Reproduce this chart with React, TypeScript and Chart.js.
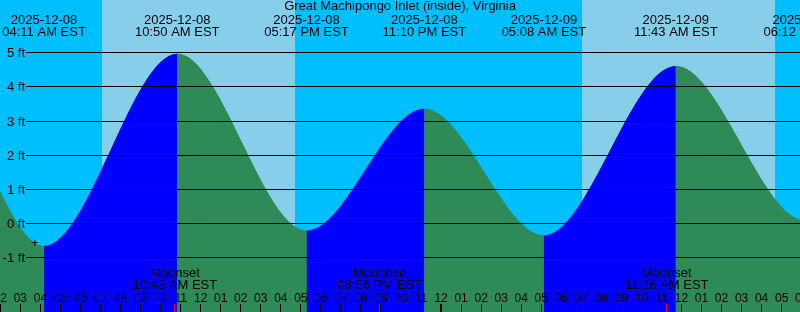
import { useEffect, useRef } from 'react';
import { Chart, registerables } from 'chart.js';

Chart.register(...registerables);

const TITLE = 'Great Machipongo Inlet (inside), Virginia';
const ZONE = 'EST';

// Visible time window
const WINDOW_START = '2025-12-08 01:59';
const WINDOW_END = '2025-12-09 17:55';
// Visible height window (ft)
const HEIGHT_MIN = -2.59;
const HEIGHT_MAX = 6.545;

// Tide extremes (the first two and the last one lie outside the window)
const tideStamps = [
  '2025-12-07 16:30',
  '2025-12-07 22:54',
  '2025-12-08 04:11',
  '2025-12-08 10:50',
  '2025-12-08 17:17',
  '2025-12-08 23:10',
  '2025-12-09 05:08',
  '2025-12-09 11:43',
  '2025-12-09 18:12',
  '2025-12-10 00:25',
];
const tideHeights = [-0.1, 3.6, -0.66, 4.97, -0.21, 3.36, -0.35, 4.61, 0.08, 3.3];

// Daylight
const sunriseStamps = ['2025-12-08 07:04', '2025-12-09 07:01'];
const sunsetStamps = ['2025-12-08 16:43', '2025-12-09 16:40'];

// Moon events
const moonEvents = ['Moonset', 'Moonrise', 'Moonset'];
const moonStamps = ['2025-12-08 10:43', '2025-12-08 20:56', '2025-12-09 11:16'];

// Height grid (ft)
const heightTicks = [5, 4, 3, 2, 1, 0, -1];

// "+" mark
const markStamp = '2025-12-08 03:43';
const markHeight = -0.556;

const NIGHT = '#00BFFF';
const DAY = '#87CEEB';
const RISING = '#0000FF';
const FALLING = '#2E8B57';
const FONT = '"Liberation Sans", Arial, sans-serif';

function toHours(stamp: string): number {
  const [d, t] = stamp.split(' ');
  const [Y, M, D] = d.split('-').map(Number);
  const [h, m] = t.split(':').map(Number);
  return (Date.UTC(Y, M - 1, D, h, m) - Date.UTC(2025, 11, 9)) / 3600000;
}

const pad = (n: number) => String(n).padStart(2, '0');

function clock(stamp: string): string {
  const [h, m] = stamp.split(' ')[1].split(':').map(Number);
  const ap = h < 12 ? 'AM' : 'PM';
  const h12 = h % 12 === 0 ? 12 : h % 12;
  return `${pad(h12)}:${pad(m)} ${ap} ${ZONE}`;
}

function hourLabel(h: number): string {
  const hr = ((h % 24) + 24) % 24;
  return pad(hr % 12 === 0 ? 12 : hr % 12);
}

const skyPlugin = {
  id: 'sky',
  beforeDatasetsDraw(chart: any) {
    const { ctx, chartArea: a, scales } = chart;
    const x = scales.x;
    ctx.save();
    ctx.fillStyle = NIGHT;
    ctx.fillRect(a.left, a.top, a.right - a.left, a.bottom - a.top);
    ctx.fillStyle = DAY;
    sunriseStamps.forEach((s, i) => {
      const x0 = Math.round(x.getPixelForValue(toHours(s)));
      const x1 = Math.round(x.getPixelForValue(toHours(sunsetStamps[i])));
      ctx.fillRect(x0, a.top, x1 - x0, a.bottom - a.top);
    });
    ctx.restore();
  },
};

const overlayPlugin = {
  id: 'overlay',
  afterDatasetsDraw(chart: any) {
    const { ctx, chartArea: a, scales } = chart;
    const x = scales.x;
    const y = scales.y;
    ctx.save();
    ctx.strokeStyle = '#000';
    ctx.fillStyle = '#000';
    ctx.lineWidth = 1;
    ctx.textBaseline = 'alphabetic';
    ctx.font = `13px ${FONT}`;

    // grid lines + height labels
    ctx.textAlign = 'right';
    heightTicks.forEach((v) => {
      const py = Math.floor(y.getPixelForValue(v)) + 0.5;
      ctx.beginPath();
      ctx.moveTo(26, py);
      ctx.lineTo(a.right, py);
      ctx.stroke();
      ctx.fillText(`${v} ft`, 25, py + 4.5);
    });

    ctx.textAlign = 'center';
    // title
    ctx.fillText(TITLE, (a.left + a.right) / 2, 10);

    // tide event labels
    tideStamps.forEach((s) => {
      const px = x.getPixelForValue(toHours(s));
      ctx.fillText(s.split(' ')[0], px, 24);
      ctx.fillText(clock(s), px, 36);
    });

    // moon labels
    moonStamps.forEach((s, i) => {
      const px = x.getPixelForValue(toHours(s));
      ctx.fillText(moonEvents[i], px, 277);
      ctx.fillText(clock(s), px, 289);
    });

    // hour ticks and labels
    ctx.font = `12px ${FONT}`;
    for (let h = Math.ceil(x.min); h <= Math.floor(x.max) + 1; h++) {
      const px = x.getPixelForValue(h);
      ctx.fillText(hourLabel(h), px, 302);
      const midnight = ((h % 24) + 24) % 24 === 0;
      if (midnight) ctx.fillRect(Math.round(px) - 1, 304, 2, 8);
      else ctx.fillRect(Math.floor(px), 304, 1, 8);
    }

    // moon ticks
    ctx.fillStyle = '#FF0000';
    moonStamps.forEach((s) => {
      const px = x.getPixelForValue(toHours(s));
      ctx.fillRect(Math.floor(px), 304, 1, 8);
    });

    // mark
    ctx.fillStyle = '#000';
    ctx.font = `13px ${FONT}`;
    ctx.fillText('+', x.getPixelForValue(toHours(markStamp)), y.getPixelForValue(markHeight) + 4.6);
    ctx.restore();
  },
};

export default function App() {
  const ref = useRef<HTMLCanvasElement>(null);

  useEffect(() => {
    const canvas = ref.current;
    if (!canvas) return;
    const points = tideStamps.map((s, i) => ({ x: toHours(s), y: tideHeights[i] }));
    const common = {
      borderWidth: 0,
      borderColor: 'rgba(0,0,0,0)',
      pointRadius: 0,
      pointHoverRadius: 0,
      fill: 'start',
      cubicInterpolationMode: 'monotone',
      capBezierPoints: false,
    };
    const chart = new Chart(canvas, {
      type: 'line',
      data: {
        datasets: [
          {
            ...common,
            data: points,
            backgroundColor: FALLING,
            segment: {
              backgroundColor: (c: any) => (c.p1.parsed.y > c.p0.parsed.y ? RISING : FALLING),
            },
          } as any,
          // underlay of the same curve, hides anti-alias seams between rising/falling fills
          {
            ...common,
            data: points,
            backgroundColor: FALLING,
          } as any,
        ],
      },
      options: {
        animation: false,
        responsive: false,
        maintainAspectRatio: false,
        devicePixelRatio: 1,
        events: [],
        layout: { padding: 0 },
        plugins: {
          legend: { display: false },
          tooltip: { enabled: false },
          title: { display: false },
        },
        scales: {
          x: {
            type: 'linear',
            display: false,
            bounds: 'data',
            afterDataLimits: (scale: any) => {
              scale.min = toHours(WINDOW_START);
              scale.max = toHours(WINDOW_END);
            },
          },
          y: {
            type: 'linear',
            display: false,
            min: HEIGHT_MIN,
            max: HEIGHT_MAX,
          },
        },
      } as any,
      plugins: [skyPlugin, overlayPlugin],
    });
    return () => chart.destroy();
  }, []);

  return (
    <div style={{ position: 'fixed', left: 0, top: 0, width: 800, height: 312 }}>
      <canvas ref={ref} width={800} height={312} style={{ display: 'block' }} />
    </div>
  );
}
